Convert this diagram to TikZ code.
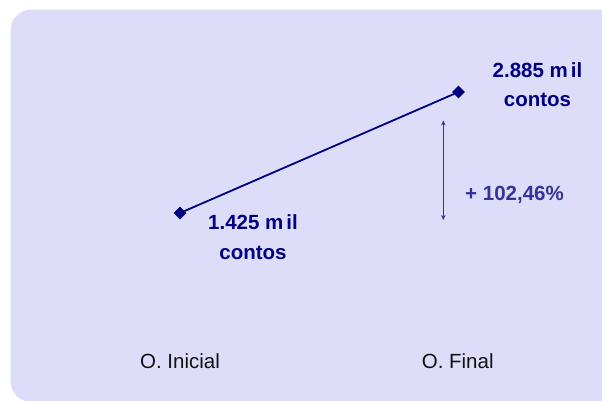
\documentclass[tikz,border=0pt]{standalone}
\usepackage{fontspec}
\setmainfont{Liberation Sans}
\usetikzlibrary{shapes.geometric,arrows.meta}
\definecolor{bgpanel}{RGB}{221,221,249}
\definecolor{navy}{RGB}{0,0,128}
\definecolor{pctblue}{RGB}{51,51,153}
\definecolor{axistext}{RGB}{17,17,17}
\tikzset{
  valuelabel/.style={anchor=base, text=navy, inner sep=0pt, font=\fontsize{20.5}{24}\selectfont\bfseries},
  pctlabel/.style={anchor=base, text=pctblue, inner sep=0pt, font=\fontsize{20.5}{24}\selectfont\bfseries},
  catlabel/.style={anchor=base, text=axistext, inner sep=0pt, font=\fontsize{20.5}{24}\selectfont},
  datapoint/.style={diamond, fill=navy, inner sep=0pt, minimum width=13pt, minimum height=13pt},
  seriesline/.style={draw=navy, line width=1.8pt},
  changearrow/.style={draw=pctblue, line width=1.5pt, {Stealth[length=5pt,width=4.5pt]}-{Stealth[length=5pt,width=4.5pt]}}
}
\begin{document}
\begin{tikzpicture}[x=1pt,y=-1pt]
\useasboundingbox (0,0) rectangle (602,400);
\begin{scope}
\clip (0,0) rectangle (602,400);
\fill[bgpanel, rounded corners=21pt] (10.5,9.5) rectangle (620,402);
\end{scope}
% data points
\node[datapoint] (p1) at (180,213) {};
\node[datapoint] (p2) at (458.5,92) {};
\draw[seriesline] (p1.center) -- (p2.center);
% value labels
\node[valuelabel] (v2a) at (537.5,77.5) {2.885 m\kern3pt il};
\node[valuelabel] (v2b) at (537.5,106.5) {contos};
\node[valuelabel] (v1a) at (253,229.5) {1.425 m\kern3pt il};
\node[valuelabel] (v1b) at (253,259.5) {contos};
% change arrow
\coordinate (atop) at (443.3,120.5);
\coordinate (abot) at (443.3,220);
\draw[changearrow] (atop) -- (abot);
\node[pctlabel] (pct) at (514.5,200.5) {+ 102,46\%};
% category labels
\node[catlabel] (c1) at (180,368.3) {O. Inicial};
\node[catlabel] (c2) at (457.7,368.3) {O. Final};
\end{tikzpicture}
\end{document}
